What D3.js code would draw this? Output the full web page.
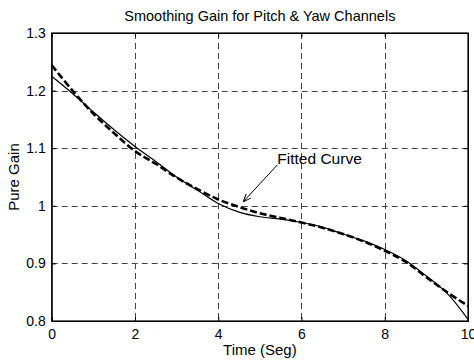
<!doctype html>
<html>
<head>
<script src="https://d3js.org/d3.v7.min.js"></script>
<style>
body { margin: 0; background: #fff; }
text { font-family: "Liberation Sans", Arial, Helvetica, sans-serif; fill: #000; }
</style>
</head>
<body>
<svg width="474" height="360"></svg>
<script>
// time samples (s)
var time = [0, 0.5, 1, 1.5, 2, 2.5, 3, 3.5, 4, 4.5, 5, 5.5, 6, 6.5, 7, 7.5, 8, 8.5, 9, 9.5, 10];
// measured gain (solid)
var gain = [1.225, 1.195, 1.163, 1.132, 1.103, 1.077, 1.050, 1.027, 1.004, 0.989, 0.981, 0.977, 0.971, 0.963, 0.951, 0.939, 0.924, 0.905, 0.878, 0.848, 0.803];
// fitted curve (dashed)
var fitted = [1.244, 1.200, 1.160, 1.126, 1.095, 1.073, 1.049, 1.029, 1.011, 0.998, 0.987, 0.979, 0.971, 0.962, 0.951, 0.938, 0.922, 0.903, 0.876, 0.850, 0.826];
var xTicks = [0, 2, 4, 6, 8, 10];
var yTicks = [0.8, 0.9, 1, 1.1, 1.2, 1.3];

var svg = d3.select("svg");
var pLeft = 51.7, pRight = 468, pTop = 33, pBottom = 321;

var x = d3.scaleLinear().domain([0, 10]).range([pLeft, pRight]);
var y = d3.scaleLinear().domain([0.8, 1.3]).range([pBottom, pTop]);

// grid
var grid = svg.append("g").attr("stroke", "#444").attr("stroke-width", 1).attr("stroke-dasharray", "6,4");
grid.selectAll(".gx").data(xTicks.slice(1, -1)).enter().append("line")
    .attr("x1", d => Math.round(x(d)) + 0.5).attr("x2", d => Math.round(x(d)) + 0.5)
    .attr("y1", pTop).attr("y2", pBottom);
grid.selectAll(".gy").data(yTicks.slice(1, -1)).enter().append("line")
    .attr("y1", d => Math.round(y(d)) + 0.5).attr("y2", d => Math.round(y(d)) + 0.5)
    .attr("x1", pLeft).attr("x2", pRight);

// axes (ticks inside)
svg.append("g").attr("transform", "translate(0," + pBottom + ")")
    .call(d3.axisBottom(x).tickValues(xTicks).tickSize(-4).tickPadding(8).tickFormat(d3.format("d")));
svg.append("g").attr("transform", "translate(0," + pTop + ")")
    .call(d3.axisTop(x).tickValues(xTicks).tickSize(-4).tickFormat(""));
svg.append("g").attr("transform", "translate(" + pLeft + ",0)")
    .call(d3.axisLeft(y).tickValues(yTicks).tickSize(-4).tickPadding(6).tickFormat(d => String(d)));
svg.append("g").attr("transform", "translate(" + pRight + ",0)")
    .call(d3.axisRight(y).tickValues(yTicks).tickSize(-4).tickFormat(""));
svg.selectAll(".domain").attr("stroke", "#000");
svg.selectAll(".tick line").attr("stroke", "#000");
svg.selectAll(".tick text").style("font-size", "14px").attr("fill", "#000");

// box
svg.append("rect").attr("x", pLeft).attr("y", pTop).attr("width", pRight - pLeft).attr("height", pBottom - pTop)
    .attr("fill", "none").attr("stroke", "#000").attr("stroke-width", 1.2);

// curves
var line = d3.line().x(d => x(d[0])).y(d => y(d[1])).curve(d3.curveCatmullRom.alpha(0.5));
svg.append("path").datum(time.map((t, i) => [t, gain[i]]))
    .attr("d", line).attr("fill", "none").attr("stroke", "#000").attr("stroke-width", 1.2);
svg.append("path").datum(time.map((t, i) => [t, fitted[i]]))
    .attr("d", line).attr("fill", "none").attr("stroke", "#000").attr("stroke-width", 2.6)
    .attr("stroke-dasharray", "7,3");

// annotation
svg.append("defs").append("marker").attr("id", "arr").attr("viewBox", "0 0 10 10")
    .attr("refX", 10).attr("refY", 5).attr("markerWidth", 8).attr("markerHeight", 8)
    .attr("markerUnits", "userSpaceOnUse").attr("orient", "auto")
    .append("path").attr("d", "M0,1 L10,5 L0,9").attr("fill", "none").attr("stroke", "#000").attr("stroke-width", 1.2);
svg.append("line").attr("x1", x(5.42)).attr("y1", y(1.071)).attr("x2", x(4.6)).attr("y2", y(1.007))
    .attr("stroke", "#000").attr("stroke-width", 1).attr("marker-end", "url(#arr)");
svg.append("text").attr("x", x(5.42)).attr("y", y(1.072)).style("font-size", "15.5px").text("Fitted Curve");

// titles
svg.append("text").attr("x", (pLeft + pRight) / 2).attr("y", 21).attr("text-anchor", "middle")
    .style("font-size", "14.5px").text("Smoothing Gain for Pitch & Yaw Channels");
svg.append("text").attr("x", (pLeft + pRight) / 2).attr("y", 355).attr("text-anchor", "middle")
    .style("font-size", "15px").text("Time (Seg)");
svg.append("text").attr("transform", "translate(18.5," + (pTop + pBottom) / 2 + ")rotate(-90)")
    .attr("text-anchor", "middle").style("font-size", "15px").text("Pure Gain");
</script>
</body>
</html>
